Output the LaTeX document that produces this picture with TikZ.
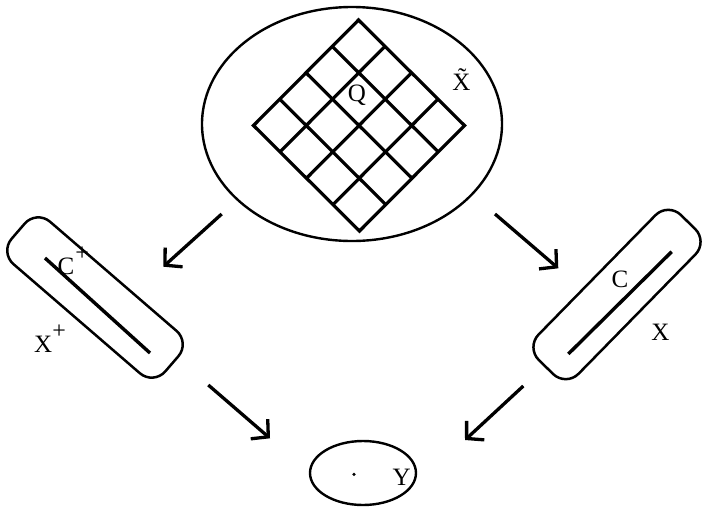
\documentclass[tikz,border=0pt]{standalone}
\usepackage{fontspec}
\setmainfont{Liberation Serif}
\usetikzlibrary{shapes.geometric,arrows.meta,calc}
\newcommand{\supplus}[1]{\kern#1\raisebox{14pt}{\fontsize{24}{24}\selectfont +}}
\begin{document}
\begin{tikzpicture}[x=1pt,y=-1pt,
  oval/.style={draw, ellipse, line width=2.4pt, inner sep=0pt},
  pill/.style={draw, rounded corners=18pt, line width=2.5pt, minimum width=203pt, minimum height=56pt, inner sep=0pt},
  gridline/.style={line width=3.2pt},
  axisline/.style={line width=3.4pt},
  arr/.style={line width=3.3pt, -{Straight Barb[length=12pt,width=26pt]}},
  lbl/.style={font=\fontsize{25}{30}\selectfont, inner sep=0pt}]
\useasboundingbox (0,0) rectangle (705,507);
% main shapes
\node[oval, minimum width=300pt, minimum height=234pt] (Xt) at (352,124) {};
\node[oval, minimum width=106pt, minimum height=64pt] (Y) at (363,473) {};
\node[pill, rotate=-40.8] (Lbox) at (95,297.5) {};
\node[pill, rotate=45.6] (Rbox) at (617,294.5) {};
% grid
\coordinate (gT) at (358.5,20);
\coordinate (gL) at (253.5,125.5);
\coordinate (gR) at (464.5,125.5);
\coordinate (gB) at (359.5,231);
\draw[gridline] (gT) -- (gR) -- (gB) -- (gL) -- cycle;
\foreach \i in {1,2,3} {
  \draw[gridline] ($(gT)!\i/4!(gL)$) -- ($(gR)!\i/4!(gB)$);
  \draw[gridline] ($(gT)!\i/4!(gR)$) -- ($(gL)!\i/4!(gB)$);
}
% curves inside the boxes
\coordinate (lc1) at (45,258);
\coordinate (lc2) at (150,353);
\draw[axisline] (lc1) -- (lc2);
\coordinate (rc1) at (671.7,251.7);
\coordinate (rc2) at (568.3,354);
\draw[axisline] (rc1) -- (rc2);
% arrows
\coordinate (a1s) at (221.7,214);
\coordinate (a1e) at (163.3,266.7);
\coordinate (a2s) at (495,214);
\coordinate (a2e) at (558.3,268.3);
\coordinate (a3s) at (208.3,385);
\coordinate (a3e) at (270,438.3);
\coordinate (a4s) at (523.3,386);
\coordinate (a4e) at (465,440);
\draw[arr] (a1s) -- (a1e);
\draw[arr] (a2s) -- (a2e);
\draw[arr] (a3s) -- (a3e);
\draw[arr] (a4s) -- (a4e);
% point in Y
\node[circle, fill, inner sep=0pt, minimum size=3.6pt] (pt) at (354,474.3) {};
% labels
\node[lbl, anchor=base] (Q) at (357,101) {Q};
\node[lbl, anchor=base] (Xtl) at (461.5,90) {\~{X}};
\node[lbl, anchor=base west] (Cp) at (57.5,274) {C\supplus{1pt}};
\node[lbl, anchor=base west] (Xp) at (34,352) {X\supplus{0pt}};
\node[lbl, anchor=base] (Cl) at (620,287) {C};
\node[lbl, anchor=base] (Xl) at (660.5,340) {X};
\node[lbl, anchor=base] (Yl) at (401.7,485) {Y};
\end{tikzpicture}
\end{document}
